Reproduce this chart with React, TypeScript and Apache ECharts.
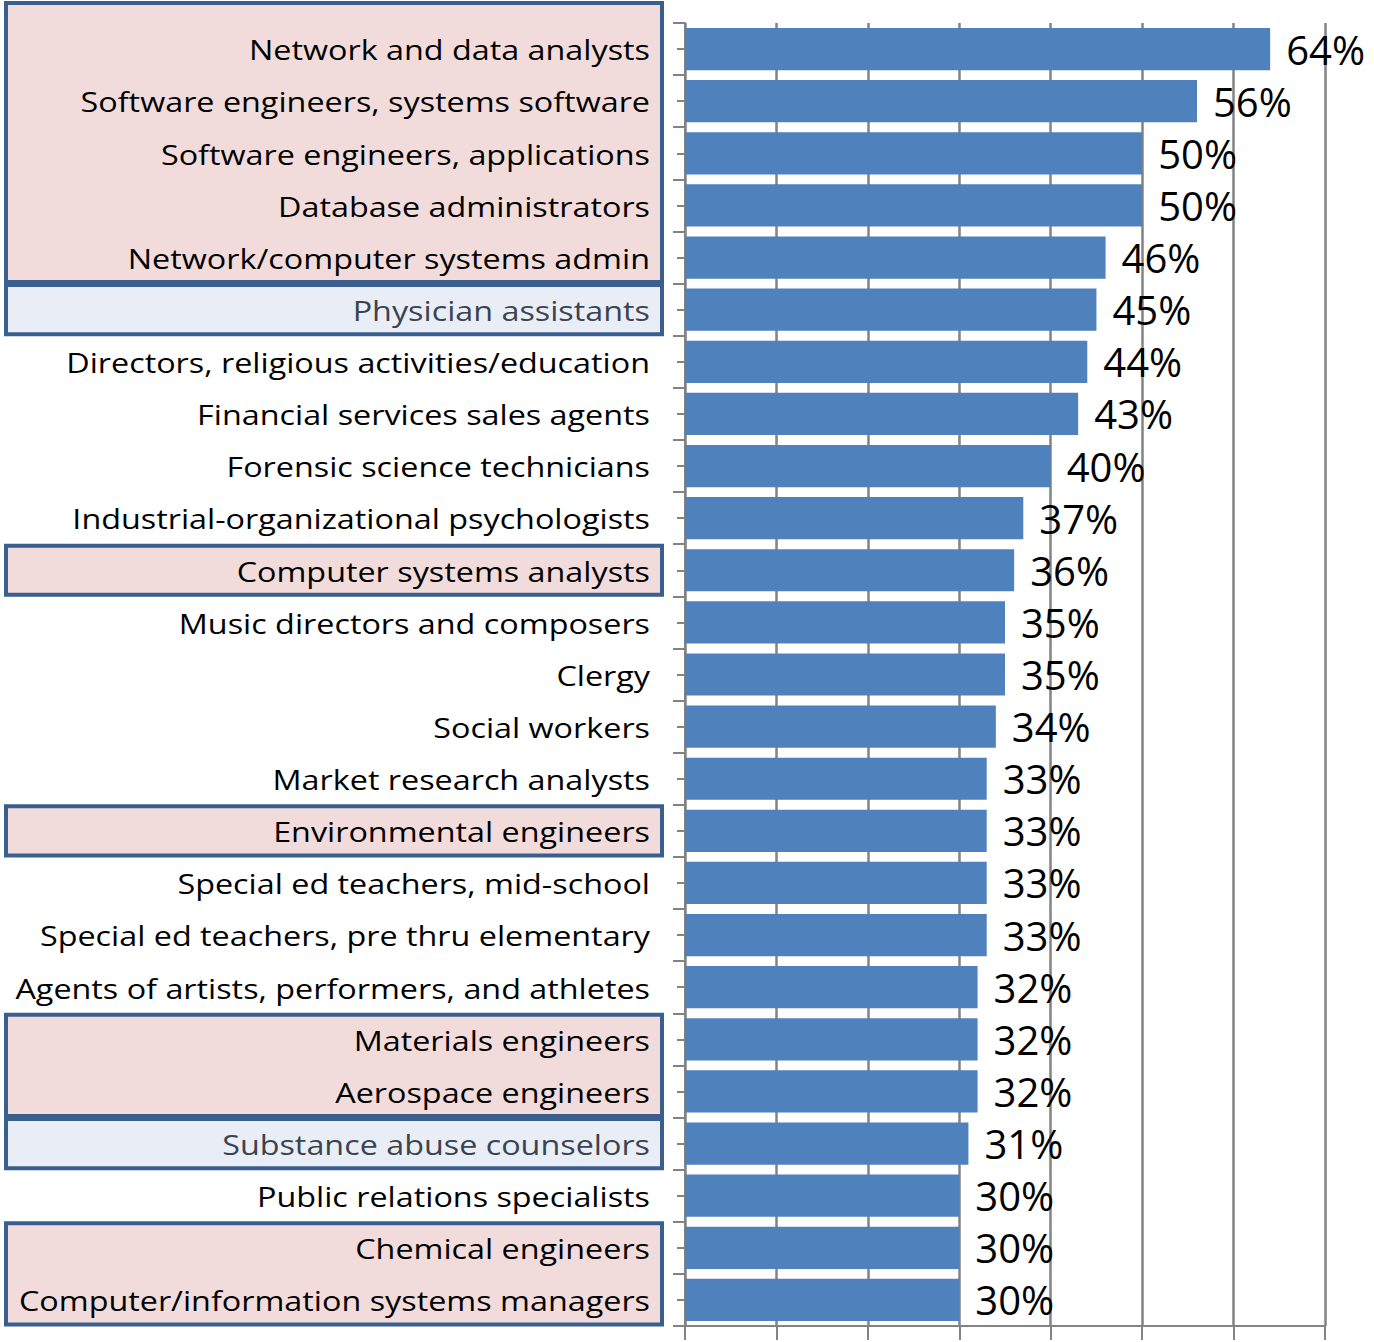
import React, { useEffect, useRef } from "react";
import * as echarts from "echarts";

const categories = [
  "Network and data analysts",
  "Software engineers, systems software",
  "Software engineers, applications",
  "Database administrators",
  "Network/computer systems admin",
  "Physician assistants",
  "Directors, religious activities/education",
  "Financial services sales agents",
  "Forensic science technicians",
  "Industrial-organizational psychologists",
  "Computer systems analysts",
  "Music directors and composers",
  "Clergy",
  "Social workers",
  "Market research analysts",
  "Environmental engineers",
  "Special ed teachers, mid-school",
  "Special ed teachers, pre thru elementary",
  "Agents of artists, performers, and athletes",
  "Materials engineers",
  "Aerospace engineers",
  "Substance abuse counselors",
  "Public relations specialists",
  "Chemical engineers",
  "Computer/information systems managers",
];

const values = [64, 56, 50, 50, 46, 45, 44, 43, 40, 37, 36, 35, 35, 34, 33, 33, 33, 33, 32, 32, 32, 31, 30, 30, 30];

// highlighted groups: [first row, last row, kind]
const highlightGroups: [number, number, "pink" | "blue"][] = [
  [0, 4, "pink"],
  [5, 5, "blue"],
  [10, 10, "pink"],
  [15, 15, "pink"],
  [19, 20, "pink"],
  [21, 21, "blue"],
  [23, 24, "pink"],
];

const W = 1374;
const H = 1342;
const GRID_LEFT = 685;
const GRID_TOP = 23;
const GRID_RIGHT = 49;
const GRID_BOTTOM = 16;

const FILL = { pink: "#F2DCDB", blue: "#E9EEF6" };
const BORDER = "#3A5E8E";
const AXIS_GRAY = "#838383";
const LABEL_RIGHT = 650;

export default function App() {
  const ref = useRef<HTMLDivElement>(null);

  useEffect(() => {
    document.body.style.margin = "0";
    if (!ref.current) return;
    const chart = echarts.init(ref.current, undefined, { renderer: "svg" });

    const blueRows = new Set<number>();
    highlightGroups.forEach(([a, b, k]) => {
      if (k === "blue") for (let i = a; i <= b; i++) blueRows.add(i);
    });

    chart.setOption({
      animation: false,
      backgroundColor: "#ffffff",
      grid: { left: GRID_LEFT, right: GRID_RIGHT, top: GRID_TOP, bottom: GRID_BOTTOM, containLabel: false },
      xAxis: {
        type: "value",
        min: 0,
        max: 70,
        interval: 10,
        axisLabel: { show: false },
        axisLine: { show: true, lineStyle: { color: AXIS_GRAY, width: 2 } },
        axisTick: { show: true, length: 14, lineStyle: { color: AXIS_GRAY, width: 2 } },
        splitLine: { show: true, lineStyle: { color: AXIS_GRAY, width: 2.5 } },
      },
      yAxis: [
        {
          type: "category",
          data: categories,
          inverse: true,
          axisLine: { show: true, lineStyle: { color: AXIS_GRAY, width: 2 } },
          axisTick: { show: true, length: 12, alignWithLabel: false, lineStyle: { color: AXIS_GRAY, width: 2 } },
          axisLabel: { show: false },
        },
        {
          type: "category",
          data: categories,
          inverse: true,
          position: "left",
          axisLine: { show: false },
          axisTick: { show: true, length: 8, alignWithLabel: true, lineStyle: { color: AXIS_GRAY, width: 2 } },
          axisLabel: { show: false },
        },
      ],
      series: [
        {
          type: "bar",
          yAxisIndex: 0,
          data: values,
          barCategoryGap: "19%",
          itemStyle: { color: "#4F81BD" },
          label: {
            show: true,
            position: "right",
            distance: 16,
            formatter: "{c}%",
            fontFamily: "Open Sans",
            fontSize: 40,
            color: "#000000",
          },
        },
      ],
    });

    // category positions from the axis
    const centers = categories.map((c) => chart.convertToPixel({ yAxisIndex: 0 }, c) as number);
    const band = categories.length > 1 ? centers[1] - centers[0] : 52;

    const boxes = highlightGroups.map(([a, b, k]) => {
      const top = a === 0 ? 3 : centers[a] - band / 2 + 1.5;
      const bottom = centers[b] + band / 2 - 1.5;
      return {
        type: "rect",
        z: -10,
        shape: { x: 6, y: top, width: 656, height: bottom - top },
        style: { fill: FILL[k], stroke: BORDER, lineWidth: 4 },
      };
    });

    const labels = categories.map((c, i) => ({
      type: "text",
      z: 5,
      x: LABEL_RIGHT,
      y: centers[i] + 1,
      scaleX: 1.22,
      style: {
        text: c,
        fontFamily: "Open Sans",
        fontSize: 26.5,
        fill: blueRows.has(i) ? "#3C4350" : "#000000",
        align: "right",
        verticalAlign: "middle",
      },
    }));

    chart.setOption({ graphic: [...boxes, ...labels] });

    return () => chart.dispose();
  }, []);

  return <div ref={ref} style={{ width: W, height: H }} />;
}
